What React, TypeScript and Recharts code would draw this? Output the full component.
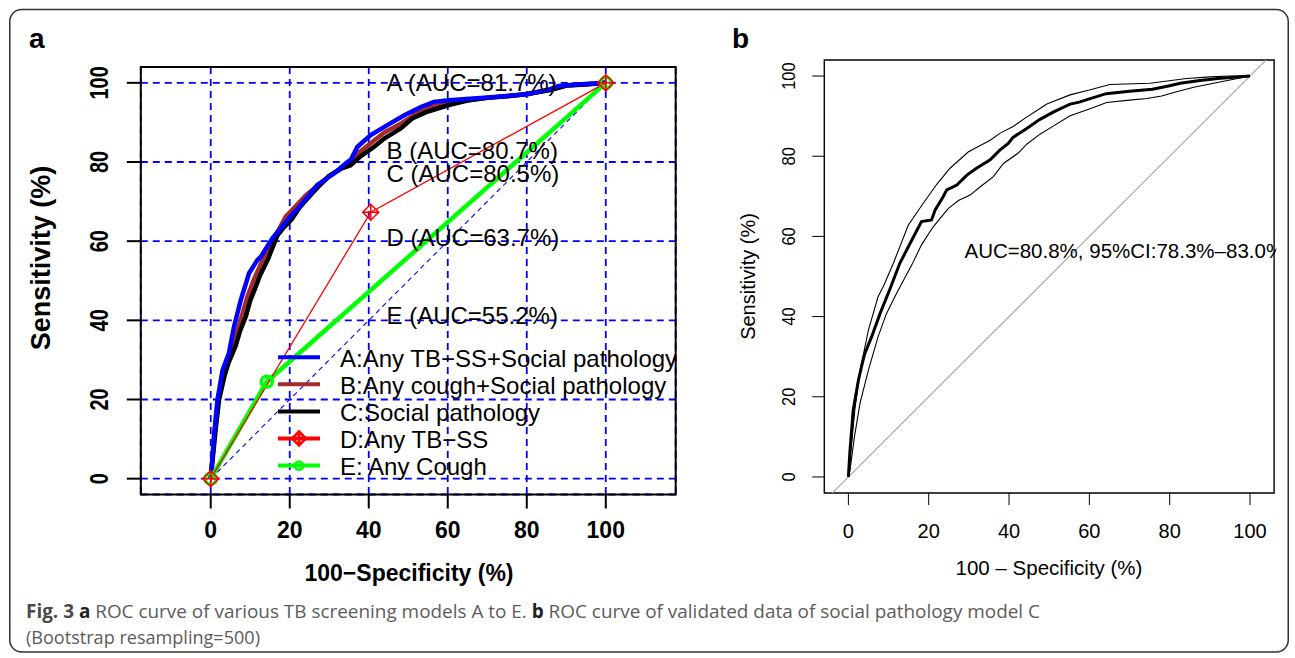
import React from 'react';
import { LineChart, Line, XAxis, YAxis, CartesianGrid, ReferenceArea, ReferenceDot } from 'recharts';

const FONT = '"Liberation Sans", Arial, Helvetica, sans-serif';
const CAPFONT = '"Open Sans", "Noto Sans", sans-serif';

// ---------- Panel a data ----------
const ticksA = [0, 20, 40, 60, 80, 100];
const rocA: number[][] = [
  [0, 0], [0.4, 5], [0.8, 10.6], [1.7, 19.9], [3, 27.4], [4.6, 31.7], [5.9, 38.4], [7.6, 45.1],
  [9.7, 51.9], [11.8, 55.2], [12.7, 56.1], [15.6, 60.7], [19.8, 65.8], [22.8, 69.1], [27, 74.2],
  [31.2, 77.1], [34.6, 80], [35.5, 80.6], [37.1, 83.8], [40.5, 86.8], [44.7, 89.3], [49, 91.8],
  [53.2, 93.9], [56.5, 95.2], [60.3, 95.6], [70, 96.3], [80.2, 97.1], [86, 98.4], [88, 99.2],
  [92, 99.5], [100, 100],
];
const rocB: number[][] = [
  [0, 0], [0.5, 5.5], [1, 11.5], [1.9, 19.9], [3.2, 26.8], [4.8, 30.5], [6.2, 35.5], [7.7, 40.5],
  [9.3, 46], [11, 50.5], [12.8, 54.5], [15.3, 59.5], [17, 62.5], [19, 66.2], [21.5, 68.8],
  [24, 71.5], [27, 74], [30.5, 76.8], [34, 79], [37, 82], [40.8, 85], [44, 87.5], [48.3, 89.8],
  [52, 92.2], [55.5, 93.8], [60.3, 95], [70, 96.2], [80, 97.1], [86, 98.3], [90, 99.3], [100, 100],
];
const rocC: number[][] = [
  [0, 0], [0.5, 5], [1.2, 12], [2.1, 19.9], [3.5, 26], [4.6, 29.5], [6.3, 33.5], [7.5, 37.5],
  [8.9, 41], [10, 45], [11.4, 48.5], [12.5, 51.4], [14.5, 55.5], [16.9, 61.5], [18.5, 63.5],
  [20.5, 65.5], [22.5, 68.5], [24.5, 70.8], [27, 73.5], [30, 76.5], [33, 78.3], [35.4, 79.2],
  [38, 81.5], [41.3, 83.8], [44, 86], [48.1, 88.5], [51, 91], [54.8, 92.7], [60.3, 94.4],
  [65, 95.5], [70, 96.2], [75, 96.6], [80, 97.2], [86, 98.2], [90, 99.3], [95, 99.6], [100, 100],
];
const rocD: number[][] = [[0, 0], [40.5, 67.3], [100, 100]];
const rocE: number[][] = [[0, 0], [14.2, 24.5], [100, 100]];
const diagA: number[][] = [[0, 0], [100, 100]];
const aucTextA = [
  { x: 44.5, y: 100.2, text: 'A (AUC=81.7%)' },
  { x: 44.5, y: 83.0, text: 'B (AUC=80.7%)' },
  { x: 44.5, y: 77.0, text: 'C (AUC=80.5%)' },
  { x: 44.5, y: 60.9, text: 'D (AUC=63.7%)' },
  { x: 44.5, y: 41.1, text: 'E (AUC=55.2%)' },
];
const legendLabels = [
  'A:Any TB\u2212SS+Social pathology',
  'B:Any cough+Social pathology',
  'C:Social pathology',
  'D:Any TB\u2212SS',
  'E: Any Cough',
];
const legendColors = ['#0000ff', '#a52a2a', '#000000', '#ff0000', '#00ff00'];
const legendMarkers = ['none', 'none', 'none', 'diamond', 'circle'];

// ---------- Panel b data ----------
const ticksB = [0, 20, 40, 60, 80, 100];
const rocMain: number[][] = [
  [0, 0], [0.4, 6.7], [1.2, 16.7], [2.5, 24.2], [3.5, 28.5], [4.1, 30.8], [5.8, 35], [7.9, 40.8],
  [10.4, 47], [12.8, 53.3], [15.8, 59.1], [18.2, 63.7], [20.7, 64.1], [21.6, 66.6], [23.6, 69.9],
  [24.5, 71.6], [27, 72.8], [29.5, 75.3], [31.9, 77], [35.3, 79.1], [37.7, 81.5], [39.8, 83.2],
  [41, 84.7], [44.5, 87], [47.7, 89.2], [51, 91], [55.2, 93], [57.5, 93.5], [60, 94.3],
  [64.2, 95.6], [70, 96.2], [75.7, 96.7], [80, 97.6], [82.6, 98.2], [87.5, 98.9], [92, 99.4],
  [100, 100],
];
const ciUpper: number[][] = [
  [0, 0], [1.6, 16.7], [3, 27], [5, 36.7], [7.4, 45], [8.7, 47.5], [11.2, 53.3], [14.9, 62.8],
  [18.6, 68.2], [22, 73], [25.3, 77], [29.9, 81.1], [35.3, 84], [37.7, 85.7], [41, 87.4],
  [44, 89.5], [47.7, 91.9], [49.4, 93], [55.2, 95.3], [60, 96.5], [65.1, 97.9], [75.1, 98.2],
  [84.2, 99.4], [90, 99.8], [95, 100], [100, 100],
];
const ciLower: number[][] = [
  [0, 0], [0.4, 1.7], [1.5, 10], [2.9, 18.4], [5, 26.7], [7.4, 35], [9.5, 40.8], [11.6, 45],
  [12.4, 46.6], [15.8, 52.9], [18.2, 57.9], [21.1, 62.4], [24.9, 67], [27.5, 69], [30.3, 70.3],
  [33, 72.5], [36.1, 74.9], [38.6, 78.2], [42.3, 80.8], [44.4, 83], [47.7, 85.5], [51, 87.5],
  [55.2, 90.1], [60, 91.8], [64.3, 93.4], [70, 94], [74.3, 94.4], [78, 95], [81.7, 96.1],
  [86, 97.2], [90, 98], [95, 99], [100, 100],
];
const diagB: number[][] = [[-6, -6], [106, 106]];
const aucTextB = { x: 28.9, y: 56.5, text: 'AUC=80.8%, 95%CI:78.3%\u201383.0%' };

const pts = (arr: number[][]) => arr.map(([x, y]) => ({ x, y }));

// ---------- markers ----------
const diamondPath = (cx: number, cy: number, r: number) =>
  `M${cx},${cy - r}L${cx + r},${cy}L${cx},${cy + r}L${cx - r},${cy}Z M${cx - r},${cy}L${cx + r},${cy} M${cx},${cy - r}L${cx},${cy + r}`;

const DiamondDot = (props: any) => {
  const { cx, cy, index } = props;
  if (cx == null || cy == null) return <g key={`dd${index}`} />;
  return (
    <path key={`dd${index}`} d={diamondPath(cx, cy, 8)} fill="none" stroke="#ff0000" strokeWidth={1.5} />
  );
};
const CircleDot = (props: any) => {
  const { cx, cy, index } = props;
  if (cx == null || cy == null) return <g key={`cd${index}`} />;
  return <circle key={`cd${index}`} cx={cx} cy={cy} r={5.5} fill="none" stroke="#00ff00" strokeWidth={3.5} />;
};

// ---------- ticks ----------
const XTickA = (p: any) => (
  <text x={p.x} y={p.y + 29.5} textAnchor="middle" fontFamily={FONT} fontWeight="bold" fontSize={23} fill="#000">
    {p.payload.value}
  </text>
);
const YTickA = (p: any) => (
  <text
    transform={`translate(${p.x - 18.5},${p.y}) rotate(-90) scale(0.8,1)`}
    textAnchor="middle" fontFamily={FONT} fontWeight="bold" fontSize={25} fill="#000"
  >
    {p.payload.value}
  </text>
);
const XTickB = (p: any) => (
  <text x={p.x} y={p.y + 33} textAnchor="middle" fontFamily={FONT} fontSize={20} fill="#000">
    {p.payload.value}
  </text>
);
const YTickB = (p: any) => (
  <text
    transform={`translate(${p.x - 17.8},${p.y}) rotate(-90) scale(0.87,1)`}
    textAnchor="middle" fontFamily={FONT} fontSize={19} fill="#000"
  >
    {p.payload.value}
  </text>
);

export default function App() {
  return (
    <div style={{ position: 'absolute', left: 0, top: 0, width: 1295, height: 658, background: '#fff', overflow: 'hidden' }}>
      {/* background: frame, panel letters, axis titles, caption */}
      <svg width={1295} height={658} style={{ position: 'absolute', left: 0, top: 0 }}>
        <defs>
          {/* clip region of panel b's plot box, in panel b chart coordinates */}
          <clipPath id="aucclipB" clipPathUnits="userSpaceOnUse">
            <rect x={124.3} y={60} width={452} height={433} />
          </clipPath>
        </defs>
        <rect x={9.75} y={9.5} width={1278.5} height={642.5} rx={12} ry={12} fill="none" stroke="#333" strokeWidth={1.5} />
        <text x={29} y={48} fontFamily={FONT} fontWeight="bold" fontSize={28} fill="#000">a</text>
        <text x={732} y={48} fontFamily={FONT} fontWeight="bold" fontSize={28} fill="#000">b</text>
        <text x={409} y={581} textAnchor="middle" fontFamily={FONT} fontWeight="bold" fontSize={23} fill="#000">
          100{'\u2212'}Specificity (%)
        </text>
        <text transform="translate(50,258) rotate(-90)" textAnchor="middle" fontFamily={FONT} fontWeight="bold" fontSize={27} fill="#000">
          Sensitivity (%)
        </text>
        <text x={1049} y={575} textAnchor="middle" fontFamily={FONT} fontSize={20.5} fill="#000">
          100 {'\u2013'} Specificity (%)
        </text>
        <text transform="translate(755,276.5) rotate(-90)" textAnchor="middle" fontFamily={FONT} fontSize={20} fill="#000">
          Sensitivity (%)
        </text>
        <text x={26} y={617.5} fontFamily={CAPFONT} fontSize={19} fill="#5c5c5c" textLength={1014} lengthAdjust="spacingAndGlyphs">
          <tspan fontWeight="bold" fill="#4a4a4a">Fig. 3</tspan>
          <tspan fontWeight="bold" fill="#222"> a</tspan>
          <tspan> ROC curve of various TB screening models A to E. </tspan>
          <tspan fontWeight="bold" fill="#222">b</tspan>
          <tspan> ROC curve of validated data of social pathology model C</tspan>
        </text>
        <text x={26} y={644} fontFamily={CAPFONT} fontSize={19} fill="#5c5c5c" textLength={234} lengthAdjust="spacingAndGlyphs">
          (Bootstrap resampling=500)
        </text>
      </svg>

      {/* Panel a */}
      <div style={{ position: 'absolute', left: 0, top: 0 }}>
        <LineChart width={700} height={600} margin={{ top: 67, right: 24.3, bottom: 55.5, left: 80.8 }}>
          <CartesianGrid stroke="#0000ff" strokeWidth={1.8} strokeDasharray="7 5" />
          <XAxis
            type="number" dataKey="x" domain={[-17.7, 117.7]} ticks={ticksA} interval={0} allowDataOverflow
            axisLine={false} tickLine={{ stroke: '#000', strokeWidth: 2 }} tickSize={14} tickMargin={0}
            height={50} tick={XTickA}
          />
          <YAxis
            type="number" dataKey="y" domain={[-4, 104]} ticks={ticksA} interval={0} allowDataOverflow
            axisLine={false} tickLine={{ stroke: '#000', strokeWidth: 2 }} tickSize={14} tickMargin={0}
            width={60} tick={YTickA}
          />
          <Line data={pts(diagA)} dataKey="y" stroke="#0000ff" strokeWidth={1.1} strokeDasharray="5 4" dot={false} isAnimationActive={false} />
          <Line data={pts(rocB)} dataKey="y" stroke="#a52a2a" strokeWidth={4.5} dot={false} isAnimationActive={false} />
          <Line data={pts(rocC)} dataKey="y" stroke="#000000" strokeWidth={4.5} dot={false} isAnimationActive={false} />
          <Line data={pts(rocA)} dataKey="y" stroke="#0000ff" strokeWidth={4.5} dot={false} isAnimationActive={false} />
          <Line data={pts(rocE)} dataKey="y" stroke="#00ff00" strokeWidth={4.5} dot={CircleDot} isAnimationActive={false} />
          <Line data={pts(rocD)} dataKey="y" stroke="#ff0000" strokeWidth={1.3} dot={DiamondDot} isAnimationActive={false} />
          <ReferenceArea x1={-17.7} x2={117.7} y1={-4} y2={104} fill="none" fillOpacity={0} stroke="#000" strokeWidth={2} ifOverflow="visible" />
          {aucTextA.map((t) => (
            <ReferenceDot
              key={t.text} x={t.x} y={t.y} r={0} fill="none" stroke="none" ifOverflow="visible"
              label={{ value: t.text, position: 'right', offset: 0, fill: '#000', fontSize: 24, fontFamily: FONT }}
            />
          ))}
        </LineChart>
      </div>

      {/* Panel b */}
      <div style={{ position: 'absolute', left: 700, top: 0 }}>
        <LineChart width={595} height={600} margin={{ top: 60, right: 20.9, bottom: 57, left: 64.3 }}>
          <XAxis
            type="number" dataKey="x" domain={[-6, 106]} ticks={ticksB} interval={0} allowDataOverflow
            axisLine={false} tickLine={{ stroke: '#000', strokeWidth: 1 }} tickSize={12} tickMargin={0}
            height={50} tick={XTickB}
          />
          <YAxis
            type="number" dataKey="y" domain={[-4, 104]} ticks={ticksB} interval={0} allowDataOverflow
            axisLine={false} tickLine={{ stroke: '#000', strokeWidth: 1 }} tickSize={12} tickMargin={0}
            width={60} tick={YTickB}
          />
          <Line data={pts(diagB)} dataKey="y" stroke="#aaaaaa" strokeWidth={1.2} dot={false} isAnimationActive={false} />
          <Line data={pts(ciUpper)} dataKey="y" stroke="#000" strokeWidth={1.1} dot={false} isAnimationActive={false} />
          <Line data={pts(ciLower)} dataKey="y" stroke="#000" strokeWidth={1.1} dot={false} isAnimationActive={false} />
          <Line data={pts(rocMain)} dataKey="y" stroke="#000" strokeWidth={3} dot={false} isAnimationActive={false} />
          <ReferenceArea x1={-6} x2={106} y1={-4} y2={104} fill="none" fillOpacity={0} stroke="#000" strokeWidth={1.4} ifOverflow="visible" />
          <ReferenceDot
            x={aucTextB.x} y={aucTextB.y} r={0} fill="none" stroke="none" ifOverflow="hidden"
            label={{
              value: aucTextB.text, position: 'right', offset: 0, fill: '#000', fontSize: 20.5, fontFamily: FONT,
              clipPath: 'url(#aucclipB)',
            }}
          />
        </LineChart>
      </div>

      {/* Legend of panel a (clipped at the plot box like the original) */}
      <svg width={1295} height={658} style={{ position: 'absolute', left: 0, top: 0, pointerEvents: 'none' }}>
        <defs>
          <clipPath id="legclip">
            <rect x={140.8} y={67} width={534.9} height={427.5} />
          </clipPath>
        </defs>
        <g clipPath="url(#legclip)">
          {legendLabels.map((lab, i) => {
            const base = 366.7 + i * 27.1;
            const ly = base - 9.5;
            const col = legendColors[i];
            return (
              <g key={lab}>
                <line x1={278} x2={320} y1={ly} y2={ly} stroke={col} strokeWidth={4} />
                {legendMarkers[i] === 'diamond' && (
                  <path d={diamondPath(299, ly, 7)} fill="none" stroke={col} strokeWidth={2.5} />
                )}
                {legendMarkers[i] === 'circle' && (
                  <circle cx={299} cy={ly} r={4.2} fill="none" stroke={col} strokeWidth={2.5} />
                )}
                <text x={340} y={base} fontFamily={FONT} fontSize={24} fill="#000">{lab}</text>
              </g>
            );
          })}
        </g>
      </svg>
    </div>
  );
}
